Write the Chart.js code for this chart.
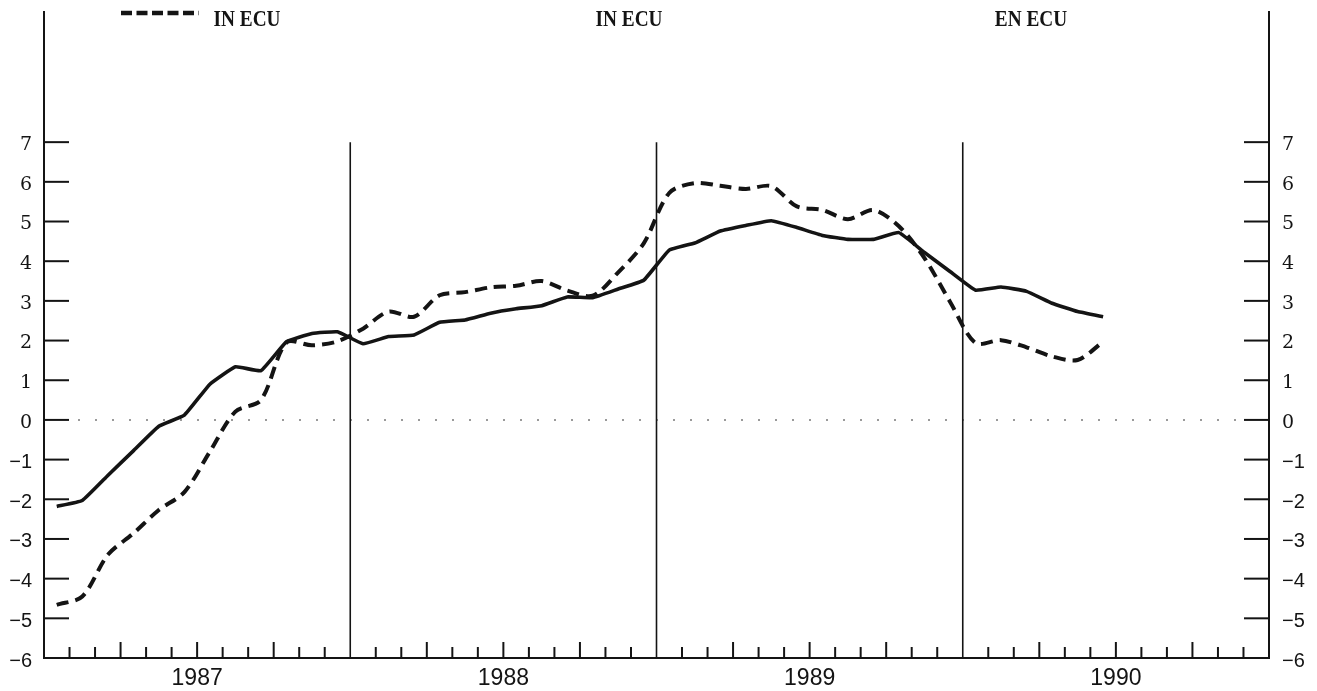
<!DOCTYPE html>
<html>
<head>
<meta charset="utf-8">
<script src="https://cdn.jsdelivr.net/npm/chart.js@4.4.1/dist/chart.umd.min.js"></script>
<style>
html,body{margin:0;padding:0;background:#fff;}
#wrap{width:1317px;height:691px;position:relative;}
</style>
</head>
<body>
<div id="wrap"><canvas id="c"></canvas></div>
<script>
// monthly values, Jan 1987 onwards (one per month)
const years=['1987','1988','1989','1990'];
const yTicks=[-6,-5,-4,-3,-2,-1,0,1,2,3,4,5,6,7];
const solidVals=[
  -2.18,-2.03,-1.40,-0.78,-0.16,0.12,0.90,1.34,1.24,1.97,2.18,2.22,
  1.92,2.10,2.14,2.46,2.52,2.69,2.80,2.88,3.10,3.08,3.30,3.52,
  4.28,4.46,4.76,4.90,5.02,4.85,4.65,4.55,4.55,4.72,4.22,3.74,
  3.27,3.35,3.24,2.94,2.73,2.60
];
const ecuVals=[
  -4.66,-4.45,-3.40,-2.86,-2.27,-1.82,-0.80,0.21,0.50,1.95,1.88,1.98,
  2.30,2.73,2.60,3.14,3.22,3.34,3.38,3.50,3.26,3.13,3.72,4.45,
  5.72,5.97,5.90,5.82,5.89,5.38,5.29,5.06,5.29,4.88,4.08,2.98,
  1.94,2.01,1.83,1.60,1.51,1.97
];
const titles=[{text:'IN ECU',x:629},{text:'EN ECU',x:1031}];

const ink='#141414';
const toPts=a=>a.map((v,i)=>({x:i+0.5,y:v}));
const fmt=v=>v<0?'\u2212'+Math.abs(v):String(v);
const tickFont=c=>c.tick&&c.tick.value<0?{family:'"Liberation Sans", Arial, sans-serif',size:20}:{family:'"DejaVu Serif", serif',size:19};

function line(ctx,x1,y1,x2,y2){ctx.beginPath();ctx.moveTo(x1,y1);ctx.lineTo(x2,y2);ctx.stroke();}
function label(ctx,txt,cx,by){
  ctx.save();ctx.translate(cx,by);ctx.scale(0.84,1);
  ctx.font='bold 23px "Liberation Serif", serif';ctx.fillStyle=ink;
  ctx.textAlign='center';ctx.textBaseline='alphabetic';ctx.fillText(txt,0,0);
  ctx.restore();
}

const frame={
  id:'frame',
  beforeDatasetsDraw(ch){
    const {ctx,chartArea:a,scales:{x,y}}=ch;
    ctx.save();
    // dotted zero line
    const y0=y.getPixelForValue(0);
    ctx.strokeStyle='#9a9a9a';ctx.lineWidth=2;ctx.setLineDash([2,15]);
    line(ctx,a.left+34,y0,a.right-26,y0);
    ctx.setLineDash([]);
    ctx.strokeStyle=ink;ctx.lineWidth=2;
    yTicks.forEach(v=>{
      if(v===yTicks[0])return;
      const py=y.getPixelForValue(v);
      line(ctx,a.left,py,a.left+25,py);
      line(ctx,a.right-25,py,a.right,py);
    });
    const top7=y.getPixelForValue(yTicks[yTicks.length-1]);
    for(let m=1;m<years.length*12;m++){
      const px=x.getPixelForValue(m);
      if(m%12===0){ctx.lineWidth=1.6;line(ctx,px,top7,px,a.bottom);}
      else{ctx.lineWidth=2;line(ctx,px,a.bottom,px,a.bottom-(m%3===0?16:11));}
    }
    ctx.restore();
  },
  afterDraw(ch){
    const ctx=ch.ctx,ds=ch.data.datasets[1];
    ctx.save();
    ctx.strokeStyle=ink;ctx.lineWidth=4.5;ctx.setLineDash([11,4.5]);
    line(ctx,121,13,199,13);
    ctx.setLineDash([]);
    label(ctx,ds.label,247,26);
    titles.forEach(t=>label(ctx,t.text,t.x,26));
    ctx.restore();
  }
};

new Chart(document.getElementById('c'),{
  type:'line',
  data:{datasets:[
    {label:'NATIONAL',data:toPts(solidVals),borderColor:ink,borderWidth:3.6,pointRadius:0,tension:0.1,fill:false},
    {label:'IN ECU',data:toPts(ecuVals),borderColor:ink,borderWidth:4,borderDash:[12,7],pointRadius:0,tension:0.3,fill:false}
  ]},
  options:{
    responsive:true,maintainAspectRatio:false,animation:false,devicePixelRatio:1,
    layout:{padding:{top:12,left:0,right:0,bottom:0}},
    plugins:{legend:{display:false},tooltip:{enabled:false}},
    scales:{
      x:{type:'linear',min:0,max:48,
        afterBuildTicks:s=>{s.ticks=years.map((yr,i)=>({value:i*12+6}));},
        afterFit:s=>{s.height=33;s.paddingLeft=0;s.paddingRight=0;},
        grid:{display:false,drawTicks:false},
        border:{display:true,color:ink,width:2},
        ticks:{padding:7,color:ink,autoSkip:false,maxRotation:0,font:{family:'"Liberation Sans", Arial, sans-serif',size:23},
          callback:v=>years[Math.round((v-6)/12)]}
      },
      y:{position:'left',min:-6,max:10.28,
        afterBuildTicks:s=>{s.ticks=yTicks.map(v=>({value:v}));},
        afterFit:s=>{s.width=44;s.paddingTop=0;s.paddingBottom=0;},
        grid:{display:false,drawTicks:false},
        border:{display:true,color:ink,width:2},
        ticks:{padding:12,labelOffset:3,color:ink,font:tickFont,callback:fmt}
      },
      y2:{position:'right',min:-6,max:10.28,
        afterBuildTicks:s=>{s.ticks=yTicks.map(v=>({value:v}));},
        afterFit:s=>{s.width=48;s.paddingTop=0;s.paddingBottom=0;},
        grid:{display:false,drawTicks:false},
        border:{display:true,color:ink,width:2},
        ticks:{padding:13,labelOffset:3,color:ink,font:tickFont,callback:fmt}
      }
    }
  },
  plugins:[frame]
});
</script>
</body>
</html>
